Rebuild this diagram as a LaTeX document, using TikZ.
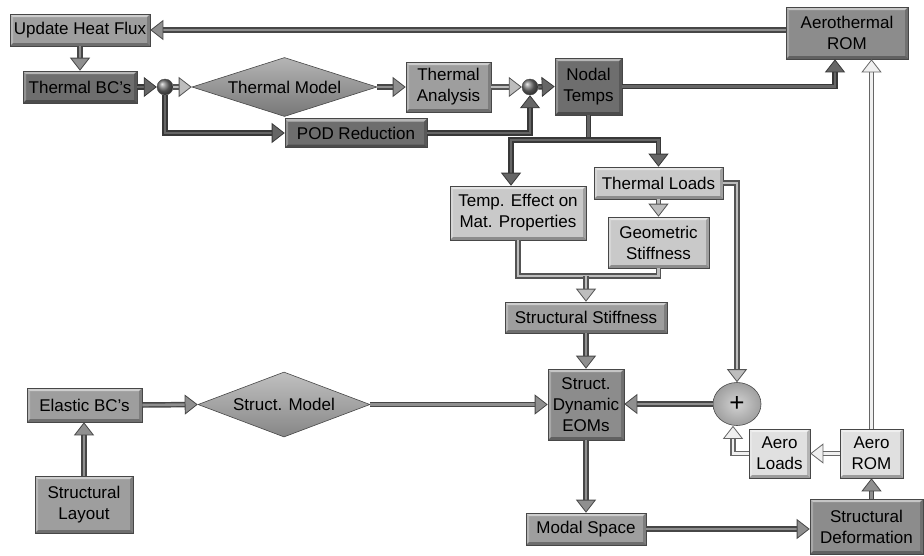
\documentclass[tikz,border=0pt]{standalone}
\usepackage{fontspec}
\setmainfont{Liberation Sans}
\usetikzlibrary{arrows.meta,shapes.geometric}
\definecolor{gA}{gray}{0.43}
\definecolor{gB}{gray}{0.55}
\definecolor{gC}{gray}{0.62}
\definecolor{gD}{gray}{0.79}
\definecolor{gE}{gray}{0.88}
\definecolor{eDk}{gray}{0.22}
\definecolor{fDk}{gray}{0.40}
\definecolor{eMd}{gray}{0.28}
\definecolor{fMd}{gray}{0.56}
\definecolor{eLt}{gray}{0.33}
\definecolor{fLt}{gray}{0.74}
\definecolor{eWt}{gray}{0.40}
\definecolor{fWt}{gray}{0.94}
\tikzset{
  pipe/.style n args={2}{preaction={draw=#1,line width=5.5pt,-,shorten >=10pt},
    draw=#2, line width=2.6pt,
    -{Triangle[length=13pt,width=20pt,line width=0.8pt,color=#1,fill=#2]}},
  pipeline/.style n args={2}{preaction={draw=#1,line width=5.5pt}, draw=#2, line width=2.6pt},
  adk/.style={pipe={eDk}{fDk}},
  amd/.style={pipe={eMd}{fMd}},
  alt/.style={pipe={eLt}{fLt}},
  awt/.style={pipe={eWt}{fWt}},
  ldk/.style={pipeline={eDk}{fDk}},
  llt/.style={pipeline={eLt}{fLt}},
  bevel/.style={path picture={
    \fill[white,opacity=.5] (path picture bounding box.north west) -- (path picture bounding box.north east) -- ([shift={(-3pt,-3pt)}]path picture bounding box.north east) -- ([shift={(3pt,-3pt)}]path picture bounding box.north west) -- cycle;
    \fill[white,opacity=.25] (path picture bounding box.north west) -- ([shift={(3pt,-3pt)}]path picture bounding box.north west) -- ([shift={(3pt,3pt)}]path picture bounding box.south west) -- (path picture bounding box.south west) -- cycle;
    \fill[black,opacity=.3] (path picture bounding box.south west) -- (path picture bounding box.south east) -- ([shift={(-3pt,3pt)}]path picture bounding box.south east) -- ([shift={(3pt,3pt)}]path picture bounding box.south west) -- cycle;
    \fill[black,opacity=.2] (path picture bounding box.north east) -- ([shift={(-3pt,-3pt)}]path picture bounding box.north east) -- ([shift={(-3pt,3pt)}]path picture bounding box.south east) -- (path picture bounding box.south east) -- cycle;
  }},
  box/.style={rectangle, draw=black!72, line width=0.6pt, fill=#1, inner sep=0pt,
    align=center, font=\fontsize{17}{21}\selectfont, bevel},
  dia/.style={diamond, aspect=3, draw=black!72, line width=0.6pt, inner sep=0pt,
    top color=#1!65!white, bottom color=#1!85!black, font=\fontsize{17}{21}\selectfont},
  jct/.style={circle, minimum size=16pt, inner sep=0pt, ball color=black!55, draw=black!70, line width=0.4pt},
}
\begin{document}
\begin{tikzpicture}[x=1pt,y=-1pt]
\useasboundingbox (0,0) rectangle (924,555);
\fill[white] (0,0) rectangle (924,555);
% nodes
\node[box=gC, minimum width=140pt, minimum height=32pt] (uhf) at (80,30) {Update Heat Flux};
\node[box=gA, minimum width=114pt, minimum height=32pt] (tbc) at (80,87) {Thermal BC's};
\node[jct] (j1) at (165,87) {};
\node[dia=gB, minimum width=185pt, minimum height=59pt] (tm) at (284.5,87) {Thermal Model};
\node[box=gC, minimum width=85pt, minimum height=50pt] (ta) at (448.5,87) {Thermal\\Analysis};
\node[jct] (j2) at (530,87) {};
\node[box=gA, minimum width=67pt, minimum height=57pt] (nt) at (588.5,86.5) {Nodal\\Temps};
\node[box=gA, minimum width=142pt, minimum height=29pt] (pod) at (356,133) {POD Reduction};
\node[box=gB, minimum width=122pt, minimum height=52pt] (aero) at (847,33) {Aerothermal\\ROM};
\node[box=gD, minimum width=129pt, minimum height=32pt] (tl) at (658.5,183) {Thermal Loads};
\node[box=gD, minimum width=136pt, minimum height=54pt] (tem) at (518,213) {Temp. Effect on\\Mat. Properties};
\node[box=gD, minimum width=101pt, minimum height=51pt] (gs) at (658.5,242.5) {Geometric\\Stiffness};
\node[box=gC, minimum width=162pt, minimum height=31pt] (ss) at (586,317.5) {Structural Stiffness};
\node[box=gB, minimum width=76pt, minimum height=71pt] (eom) at (586,404.5) {Struct.\\Dynamic\\EOMs};
\node[ellipse, minimum width=48pt, minimum height=43pt, inner sep=0pt, draw=black!72, line width=0.6pt,
  inner color=gray!35, outer color=gray!75, font=\fontsize{26}{26}\selectfont] (plus) at (737,404) {+};
\node[box=gE, minimum width=61pt, minimum height=49pt] (al) at (779.5,453.5) {Aero\\Loads};
\node[box=gE, minimum width=63pt, minimum height=49pt] (aro) at (871.5,453.5) {Aero\\ROM};
\node[box=gC, minimum width=120pt, minimum height=32pt] (ms) at (586,529) {Modal Space};
\node[box=gB, minimum width=113pt, minimum height=55pt] (sd) at (866.5,526.5) {Structural\\Deformation};
\node[box=gC, minimum width=115pt, minimum height=34pt] (ebc) at (84.5,405) {Elastic BC's};
\node[dia=gC, minimum width=172pt, minimum height=65pt] (sm) at (284,404.5) {Struct. Model};
\node[box=gC, minimum width=98pt, minimum height=57pt] (slay) at (84,504.5) {Structural\\Layout};
\coordinate (split) at (588.5,140);
\coordinate (merge) at (586,276);
% connectors
\draw[amd] (aero.west |- uhf) -- (uhf.east);
\draw[amd] (uhf.south) -- (tbc.north);
\draw[adk] (tbc.east) -- (j1.west);
\draw[alt] (j1.east) -- (tm.west);
\draw[adk] (j1.south) |- (pod.west);
\draw[amd] (tm.east) -- (ta.west);
\draw[alt] (ta.east) -- (j2.west);
\draw[adk] (pod.east) -| (j2.south);
\draw[adk] (j2.east) -- (nt.west);
\draw[adk] (nt.east) -| ([xshift=-12pt]aero.south);
\draw[ldk] (nt.south) -- (split);
\draw[adk] (split) -| ([xshift=-7pt]tem.north);
\draw[adk] (split) -| (tl.north);
\draw[alt] (tl.south) -- (gs.north);
\draw[llt] (tem.south) |- (merge) -| (gs.south);
\draw[alt] (merge) -- (ss.north);
\draw[amd] (ss.south) -- (eom.north);
\draw[alt] (tl.east) -| (plus.north);
\draw[amd] (plus.west) -- (eom.east |- plus);
\draw[awt] (aro.west) -- (al.east);
\draw[awt] (al.west) -| ([xshift=-4pt]plus.south);
\draw[awt] (aro.north) -- (aro.north |- aero.south);
\draw[amd] (aro.south |- sd.north) -- (aro.south);
\draw[amd] (eom.south) -- (eom.south |- ms.north);
\draw[amd] (ms.east) -- (ms.east -| sd.west);
\draw[amd] (slay.north) -- (slay.north |- ebc.south);
\draw[amd] (ebc.east) -- (sm.west);
\draw[amd] (sm.east) -- (eom.west |- sm);
\end{tikzpicture}
\end{document}
